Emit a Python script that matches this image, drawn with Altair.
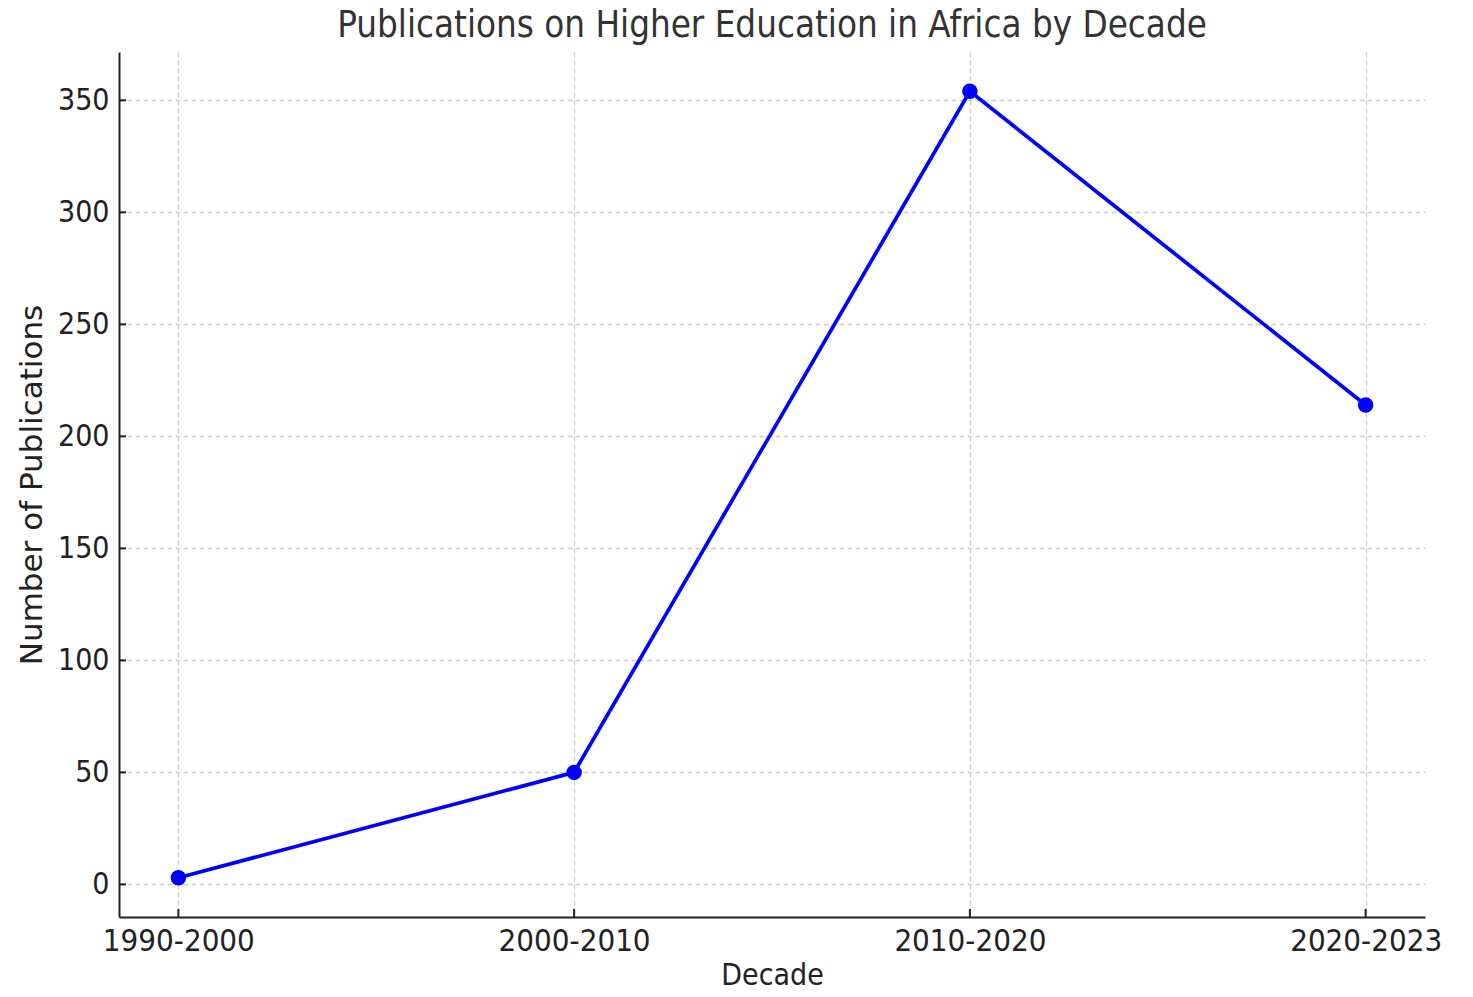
import altair as alt
import pandas as pd

decades = ["1990-2000", "2000-2010", "2010-2020", "2020-2023"]
publications = [3, 50, 354, 214]
y_ticks = [0, 50, 100, 150, 200, 250, 300, 350]

df = pd.DataFrame({"Decade": decades, "Publications": publications})
ticks_df = pd.DataFrame({"v": y_ticks})

FONT = "DejaVu Sans Condensed"
W, H = 1306, 865

xscale = alt.Scale(type="point", domain=decades, padding=0.15)
yscale = alt.Scale(domain=[-14.55, 371.55], nice=False, zero=False)

x_axis = alt.Axis(
    title="Decade", labelAngle=0, labelFont=FONT, labelFontSize=31, labelColor="#222222",
    titleFont=FONT, titleFontSize=30, titleFontWeight="normal", titleColor="#222222",
    titlePadding=4, labelPadding=9, tickSize=0, domainColor="#222222", domainWidth=2,
    grid=True, gridColor="#cccccc", gridDash=[5, 3], gridWidth=1.3,
)
y_axis = alt.Axis(
    title="Number of Publications", values=y_ticks, labelFont=FONT, labelFontSize=30,
    labelColor="#222222", titleFont="DejaVu Sans", titleFontSize=31, titleFontWeight="normal",
    titleColor="#222222", titlePadding=9, labelPadding=10, tickSize=0, domainColor="#222222",
    domainWidth=2, grid=True, gridColor="#cccccc", gridDash=[5, 3], gridWidth=1.3,
)

base_line = alt.Chart(df).mark_line(color="#0000ff", strokeWidth=3.7).encode(
    x=alt.X("Decade:N", scale=xscale, axis=x_axis, sort=decades),
    y=alt.Y("Publications:Q", scale=yscale, axis=y_axis),
)
points = alt.Chart(df).mark_point(filled=True, color="#0000ff", size=240, opacity=1).encode(
    x=alt.X("Decade:N", scale=xscale, sort=decades),
    y=alt.Y("Publications:Q", scale=yscale),
)
ytick_marks = alt.Chart(ticks_df).mark_rule(color="#222222", strokeWidth=2).encode(
    y=alt.Y("v:Q", scale=yscale),
    x=alt.value(0),
    x2=alt.value(7),
)
xtick_marks = alt.Chart(df).mark_rule(color="#222222", strokeWidth=2).encode(
    x=alt.X("Decade:N", scale=xscale, sort=decades),
    y=alt.value(H),
    y2=alt.value(H - 8),
)

chart = alt.layer(base_line, points, ytick_marks, xtick_marks).properties(
    width=W,
    height=H,
    title=alt.TitleParams(
        "Publications on Higher Education in Africa by Decade",
        font=FONT, fontSize=36.4, fontWeight="normal", color="#333333",
        anchor="middle", offset=8,
    ),
    autosize=alt.AutoSizeParams(type="none"),
    padding={"left": 111, "top": 44, "right": 40, "bottom": 72},
).configure(background="white").configure_view(stroke=None)

chart.save("out.html", embed_options={"renderer": "svg", "actions": False})
